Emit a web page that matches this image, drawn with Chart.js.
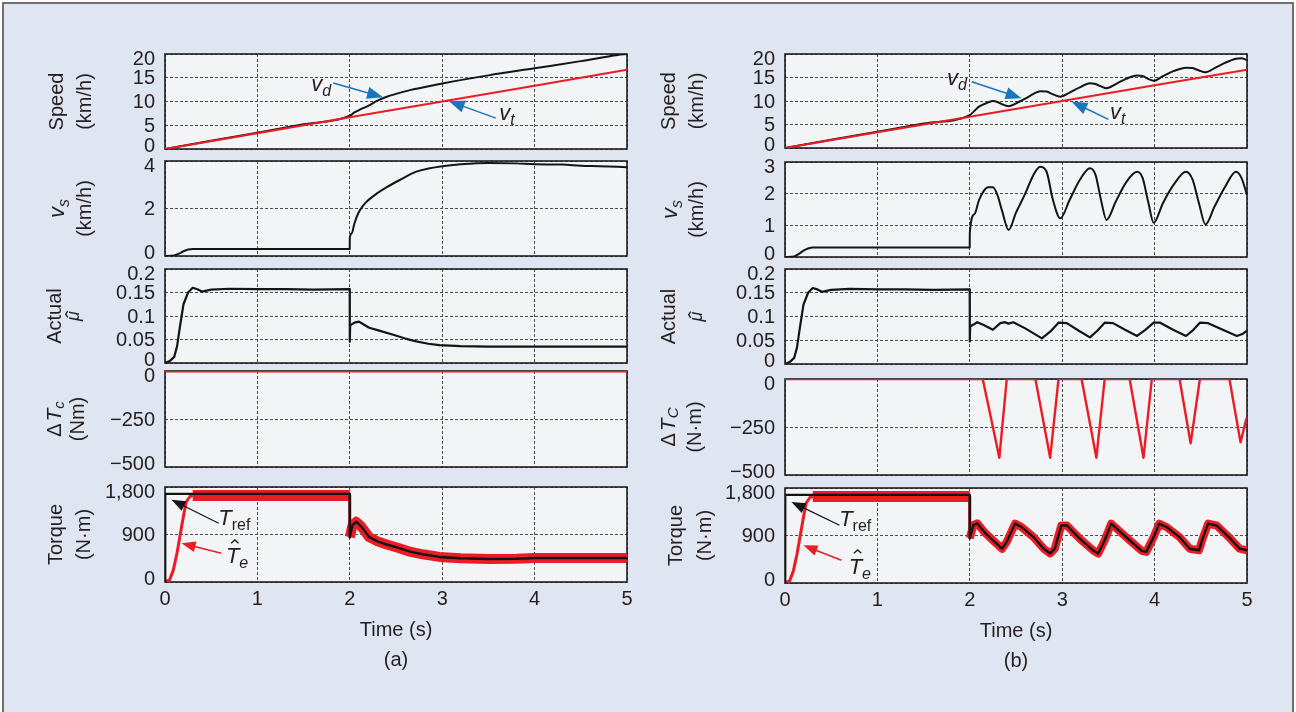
<!DOCTYPE html>
<html>
<head>
<meta charset="utf-8">
<script src="https://cdn.jsdelivr.net/npm/chart.js@4.4.1/dist/chart.umd.min.js"></script>
<style>
  html, body { margin: 0; padding: 0; background: #fff; }
  #fig { position: absolute; left: 2px; top: 2px; width: 1288px; height: 720px; border: 2px solid #707070; background: #dfe5f1; }
  canvas { position: absolute; }
</style>
</head>
<body>
<div id="fig"></div>
<script>
const FONT = '"Liberation Sans", Arial, Helvetica, sans-serif';
const TXT = '#231f20', RED = '#ec1c24', BLACK = '#141414', BLUE = '#1b75bc', GRID = '#4d4d4d', PLOT_BG = '#f3f4f6';

// ---- ticks
const timeTicks = [0, 1, 2, 3, 4, 5];
const timeLabels = ['0', '1', '2', '3', '4', '5'];
const speedTicks = [0, 5, 10, 15, 20];
const speedLabels = ['0', '5', '10', '15', '20'];
const slipTicksA = [0, 2, 4];
const slipLabelsA = ['0', '2', '4'];
const slipTicksB = [0, 1, 2, 3];
const slipLabelsB = ['0', '1', '2', '3'];
const muTicks = [0, 0.05, 0.1, 0.15, 0.2];
const muLabels = ['0', '0.05', '0.1', '0.15', '0.2'];
const dtcTicks = [-500, -250, 0];
const dtcLabels = ['\u2212500', '\u2212250', '0'];
const torqueTicks = [0, 900, 1800];
const torqueLabels = ['0', '900', '1,800'];

// ---- speed (km/h)
const vtT = [0, 1, 2, 3, 4, 5];
const vtV = [0, 3.33, 6.67, 10, 13.33, 16.67];
const vdHeadT = [0, 0.5, 1, 1.5, 2];
const vdHeadV = [0, 1.75, 3.45, 5.2, 7.0];
const vdTailAT = [2.05, 2.1, 2.2, 2.3, 2.4, 2.5, 2.65, 2.8, 3.0, 3.5, 4, 4.5, 4.9, 5];
const vdTailAV = [7.7, 8.2, 9.1, 10.2, 11.0, 11.6, 12.4, 13.0, 13.8, 15.5, 17.0, 18.5, 19.8, 20];
const vdTailBT = [2.05, 2.1, 2.2, 2.25, 2.3, 2.35, 2.42, 2.5, 2.6, 2.69, 2.76, 2.83, 2.9, 2.98, 3.08, 3.19, 3.3, 3.36, 3.42, 3.48, 3.58, 3.69, 3.81, 3.87, 3.93, 3.99, 4.09, 4.21, 4.34, 4.41, 4.48, 4.55, 4.65, 4.76, 4.88, 4.94, 5.0];
const vdTailBV = [7.9, 8.8, 9.7, 10.0, 9.8, 9.3, 8.9, 9.5, 10.5, 11.5, 12.1, 12.0, 11.4, 10.9, 11.8, 12.9, 13.8, 13.6, 13.1, 12.7, 13.6, 14.7, 15.4, 15.3, 14.7, 14.3, 15.3, 16.4, 17.1, 17.0, 16.5, 16.1, 17.0, 18.1, 19.0, 19.1, 18.7];

// ---- slip speed v_s (km/h)
const vsHeadT = [0, 0.1, 0.15, 0.2, 0.25, 0.3, 1.0, 1.999];
const vsHeadV = [0, 0.02, 0.1, 0.2, 0.27, 0.3, 0.3, 0.3];
const vsTailAT = [2.0, 2.02, 2.05, 2.09, 2.14, 2.18, 2.3, 2.4, 2.54, 2.72, 2.85, 3.0, 3.2, 3.5, 3.8, 4.0, 4.3, 4.5, 4.7, 5.0];
const vsTailAV = [0.76, 0.95, 1.37, 1.79, 2.1, 2.28, 2.65, 2.9, 3.2, 3.55, 3.68, 3.78, 3.86, 3.92, 3.9, 3.86, 3.85, 3.8, 3.78, 3.74];
const vsTailBT = [2.0, 2.05, 2.1, 2.15, 2.2, 2.25, 2.3, 2.35, 2.42, 2.5, 2.6, 2.69, 2.76, 2.83, 2.9, 2.98, 3.08, 3.19, 3.3, 3.36, 3.42, 3.48, 3.58, 3.69, 3.81, 3.87, 3.93, 3.99, 4.09, 4.21, 4.34, 4.41, 4.48, 4.55, 4.65, 4.76, 4.88, 4.94, 5.0];
const vsTailBV = [0.75, 1.35, 1.8, 2.08, 2.2, 2.2, 1.95, 1.45, 0.85, 1.4, 2.0, 2.6, 2.85, 2.7, 1.8, 1.22, 1.8, 2.43, 2.8, 2.6, 1.8, 1.17, 1.75, 2.35, 2.69, 2.5, 1.75, 1.08, 1.7, 2.3, 2.69, 2.45, 1.7, 1.03, 1.6, 2.2, 2.69, 2.5, 1.96];

// ---- estimated friction mu
const muHeadT = [0, 0.05, 0.1, 0.13, 0.16, 0.2, 0.25, 0.3, 0.35, 0.4, 0.5, 0.7, 1.0, 1.3, 1.6, 1.999];
const muHeadV = [0, 0.004, 0.013, 0.035, 0.075, 0.125, 0.15, 0.16, 0.157, 0.152, 0.156, 0.158, 0.157, 0.157, 0.156, 0.157];
const muTailAT = [2.0, 2.004, 2.05, 2.1, 2.15, 2.21, 2.3, 2.47, 2.6, 2.72, 2.85, 2.97, 3.2, 3.5, 4, 4.5, 5];
const muTailAV = [0.045, 0.08, 0.086, 0.088, 0.082, 0.075, 0.07, 0.06, 0.052, 0.046, 0.041, 0.038, 0.036, 0.035, 0.035, 0.035, 0.035];
const muTailBT = [2.0, 2.004, 2.04, 2.08, 2.15, 2.25, 2.33, 2.38, 2.42, 2.47, 2.6, 2.78, 2.87, 2.96, 3.05, 3.18, 3.30, 3.38, 3.46, 3.55, 3.68, 3.81, 3.9, 3.99, 4.06, 4.2, 4.34, 4.42, 4.49, 4.58, 4.75, 4.89, 4.95, 5.0];
const muTailBV = [0.047, 0.079, 0.083, 0.088, 0.082, 0.072, 0.086, 0.088, 0.085, 0.088, 0.075, 0.054, 0.068, 0.087, 0.086, 0.07, 0.056, 0.07, 0.087, 0.086, 0.072, 0.059, 0.072, 0.087, 0.087, 0.072, 0.059, 0.072, 0.087, 0.086, 0.071, 0.059, 0.063, 0.07];

// ---- torque correction dTc
const dtcAT = [0, 5];
const dtcAV = [0, 0];
const dtcBT = [0, 2.14, 2.32, 2.40, 2.71, 2.87, 2.96, 3.21, 3.37, 3.46, 3.73, 3.88, 3.97, 4.27, 4.39, 4.49, 4.81, 4.93, 4.99, 5.0];
const dtcBV = [0, 0, -410, 0, 0, -410, 0, 0, -410, 0, 0, -410, 0, 0, -335, 0, 0, -330, -212, -200];

// ---- torque (N.m)
const trefAT = [0, 0.002, 1.999, 2.0, 2.03, 2.07, 2.12, 2.21, 2.3, 2.4, 2.52, 2.65, 2.79, 2.97, 3.2, 3.5, 3.8, 4.0, 4.5, 5.0];
const trefAV = [0, 1670, 1670, 850, 1080, 1140, 1060, 850, 770, 710, 650, 575, 525, 475, 450, 435, 440, 455, 455, 455];
const trefBT = [0, 0.002, 1.999, 2.0, 2.04, 2.08, 2.16, 2.25, 2.35, 2.4, 2.49, 2.56, 2.69, 2.8, 2.87, 2.92, 2.99, 3.05, 3.19, 3.34, 3.39, 3.46, 3.53, 3.73, 3.86, 3.91, 3.99, 4.05, 4.13, 4.27, 4.38, 4.48, 4.52, 4.58, 4.67, 4.82, 4.92, 5.0];
const trefBV = [0, 1670, 1670, 850, 1100, 1130, 960, 810, 650, 780, 1125, 1060, 870, 650, 560, 650, 1090, 1090, 840, 610, 560, 810, 1125, 810, 610, 590, 870, 1125, 1060, 870, 650, 620, 840, 1125, 1090, 840, 650, 620];
const teHeadT = [0, 0.05, 0.09, 0.13, 0.16, 0.2, 0.23, 0.27, 0.3, 1.0, 1.999];
const teHeadV = [0, 40, 225, 550, 850, 1250, 1520, 1620, 1640, 1640, 1640];

// ---- layout
const COLS = [{ left: 165, right: 627 }, { left: 785, right: 1247 }];
const ROWS = [
  [[54, 149], [161, 256], [269, 363], [371, 467], [487, 582]],
  [[54, 148], [162, 257], [269, 364], [379, 475], [488, 583]]
];
const PAD_L = 140, PAD_R = 16, PAD_T = 14;

const join = (a, b) => a.concat(b);
const after = (t, v, t0) => [t.filter(x => x > t0), v.filter((_, i) => t[i] > t0)];

function fontOf(p) { return (p.it ? 'italic ' : '') + (p.size || 20) + 'px ' + FONT; }

function rich(ctx, x, y, parts, rot, base) {
  ctx.save();
  ctx.translate(x, y);
  if (rot) ctx.rotate(-Math.PI / 2);
  ctx.textAlign = 'left';
  ctx.textBaseline = 'alphabetic';
  let w = 0;
  const widths = parts.map(p => { ctx.font = fontOf(p); const m = ctx.measureText(p.t).width; w += m + (p.gap || 0); return m; });
  let cx = -w / 2;
  const by0 = (parts[0].size || 20) * (base == null ? 0.36 : base);
  parts.forEach((p, i) => {
    const s = p.size || 20;
    ctx.font = fontOf(p);
    ctx.fillStyle = p.color || TXT;
    const by = by0 + (p.dy || 0);
    ctx.fillText(p.t, cx, by);
    if (p.hat) {
      const hx = cx + widths[i] / 2 + s * 0.1, hy = by - s * p.hat, hh = s * (p.hatH || 0.15);
      ctx.beginPath();
      ctx.moveTo(hx - s * 0.17, hy);
      ctx.lineTo(hx, hy - hh);
      ctx.lineTo(hx + s * 0.17, hy);
      ctx.strokeStyle = p.color || TXT;
      ctx.lineWidth = 1.4;
      ctx.stroke();
    }
    cx += widths[i] + (p.gap || 0);
  });
  ctx.restore();
}

function arrow(ctx, x0, y0, x1, y1, color, hl, lw) {
  const a = Math.atan2(y1 - y0, x1 - x0), c = Math.cos(a), s = Math.sin(a), hw = hl * 0.38;
  ctx.save();
  ctx.strokeStyle = color; ctx.fillStyle = color; ctx.lineWidth = lw || 1.5;
  ctx.beginPath(); ctx.moveTo(x0, y0); ctx.lineTo(x1 - hl * c * 0.8, y1 - hl * s * 0.8); ctx.stroke();
  ctx.beginPath();
  ctx.moveTo(x1, y1);
  ctx.lineTo(x1 - hl * c + hw * s, y1 - hl * s - hw * c);
  ctx.lineTo(x1 - hl * c - hw * s, y1 - hl * s + hw * c);
  ctx.closePath(); ctx.fill();
  ctx.restore();
}

function bandWidth(c, band) {
  const x0 = c.p0.parsed.x, x1 = c.p1.parsed.x;
  if (x1 - x0 < 0.01 || x1 <= 0.3) return 3;
  return x0 < 1.999 ? band[0] : band[1];
}

function deco(p, bottomRow) {
  return {
    id: 'deco',
    beforeDraw(chart) {
      const a = chart.chartArea, ctx = chart.ctx;
      ctx.save(); ctx.fillStyle = PLOT_BG; ctx.fillRect(a.left, a.top, a.right - a.left, a.bottom - a.top); ctx.restore();
    },
    beforeDatasetsDraw(chart) {
      const a = chart.chartArea, ctx = chart.ctx;
      ctx.save(); ctx.strokeStyle = '#1e1e1e'; ctx.lineWidth = 1.6;
      ctx.strokeRect(a.left, a.top, a.right - a.left, a.bottom - a.top); ctx.restore();
    },
    afterDraw(chart) {
      const a = chart.chartArea, ctx = chart.ctx, xs = chart.scales.x, ys = chart.scales.y;
      ctx.save();
      ctx.font = '20px ' + FONT; ctx.fillStyle = TXT; ctx.textAlign = 'right'; ctx.textBaseline = 'middle';
      p.ticks.forEach((v, i) => {
        let y = ys.getPixelForValue(v);
        y = Math.min(Math.max(y, a.top + 4), a.bottom - 4);
        ctx.fillText(p.labels[i], a.left - 10, y + 1);
      });
      if (bottomRow) {
        ctx.textAlign = 'center';
        timeTicks.forEach((v, i) => ctx.fillText(timeLabels[i], xs.getPixelForValue(v), a.bottom + 17));
      }
      ctx.restore();
      const cy = (a.top + a.bottom) / 2;
      p.titles.forEach(tl => rich(ctx, a.left + tl.dx, cy, tl.parts, true, tl.base));
      (p.notes || []).forEach(n => {
        if (n.arrow) {
          arrow(ctx, xs.getPixelForValue(n.from[0]), ys.getPixelForValue(n.from[1]),
            xs.getPixelForValue(n.to[0]), ys.getPixelForValue(n.to[1]), n.color, n.head, n.lw);
        } else {
          rich(ctx, xs.getPixelForValue(n.at[0]), ys.getPixelForValue(n.at[1]), n.parts, false, n.base);
        }
      });
      if (bottomRow) {
        const mx = (a.left + a.right) / 2;
        rich(ctx, mx, a.bottom + 48, [{ t: 'Time (s)' }], false, 0.3);
        rich(ctx, mx, a.bottom + 78, [{ t: p.tag }], false, 0.3);
      }
    }
  };
}

function makeChart(p) {
  const col = COLS[p.col];
  const [top, bot] = ROWS[p.col][p.row];
  const bottomRow = p.row === 4;
  const padB = bottomRow ? 110 : 14;
  const w = PAD_L + col.right - col.left + PAD_R;
  const h = PAD_T + bot - top + padB;
  const cv = document.createElement('canvas');
  cv.width = w; cv.height = h;
  cv.style.width = w + 'px'; cv.style.height = h + 'px';
  cv.style.left = (col.left - PAD_L) + 'px';
  cv.style.top = (top - PAD_T) + 'px';
  document.body.appendChild(cv);

  const datasets = p.series.map(s => {
    const d = {
      data: s.t.map((x, i) => ({ x, y: s.v[i] })),
      borderColor: s.color, borderWidth: s.w, pointRadius: 0, fill: false,
      tension: 0, cubicInterpolationMode: s.smooth ? 'monotone' : 'default',
      borderJoinStyle: 'round'
    };
    if (s.band) d.segment = { borderWidth: c => bandWidth(c, s.band) };
    return d;
  });

  return new Chart(cv, {
    type: 'line',
    data: { datasets },
    options: {
      responsive: false, animation: false, events: [],
      layout: { padding: { left: 0, right: PAD_R, top: PAD_T, bottom: padB } },
      plugins: { legend: { display: false }, tooltip: { enabled: false } },
      scales: {
        x: {
          type: 'linear', min: 0, max: 5,
          afterBuildTicks: s => { s.ticks = timeTicks.map(v => ({ value: v })); },
          afterFit: s => { s.height = 0; },
          grid: { color: GRID, lineWidth: 1, drawTicks: false },
          border: { display: false, dash: [3, 2] },
          ticks: { display: false }
        },
        y: {
          type: 'linear', min: p.ymin, max: p.ymax,
          afterBuildTicks: s => { s.ticks = p.ticks.map(v => ({ value: v })); },
          afterFit: s => { s.width = PAD_L; },
          grid: { color: GRID, lineWidth: 1, drawTicks: false },
          border: { display: false, dash: [3, 2] },
          ticks: { display: false }
        }
      }
    },
    plugins: [deco(p, bottomRow)]
  });
}

// ---- text pieces
const txt = (t, extra) => [Object.assign({ t }, extra || {})];
const vSub = (sub) => [{ t: 'v', it: true, size: 22 }, { t: sub, it: true, size: 16, dy: 5 }];
const dTc = (sub) => [{ t: '\u0394', size: 20, gap: 2 }, { t: 'T', it: true, size: 21 }, { t: sub, it: true, size: 15, dy: 3 }];
const tRef = [{ t: 'T', it: true, size: 22 }, { t: 'ref', size: 16, dy: 5 }];
const tHat = [{ t: 'T', it: true, size: 22, hat: 0.92 }, { t: 'e', it: true, size: 16, dy: 5 }];
const muHat = [{ t: '\u03bc', it: true, size: 18, hat: 0.62, hatH: 0.11 }];

const teA = after(trefAT, trefAV, 1.999), teB = after(trefBT, trefBV, 1.999);

const panels = [
  // ---- column (a)
  { col: 0, row: 0, ymin: 0, ymax: 20, ticks: speedTicks, labels: speedLabels,
    series: [{ t: vtT, v: vtV, color: RED, w: 2 }, { t: join(vdHeadT, vdTailAT), v: join(vdHeadV, vdTailAV), color: BLACK, w: 2, smooth: true }],
    titles: [{ dx: -107, parts: txt('Speed'), base: 0.25 }, { dx: -79, parts: txt('(km/h)'), base: 0.26 }],
    notes: [
      { at: [1.69, 13.5], parts: vSub('d'), base: 0.26 },
      { arrow: true, from: [1.82, 13.9], to: [2.36, 10.9], color: BLUE, head: 16 },
      { at: [3.70, 7.4], parts: vSub('t'), base: 0.26 },
      { arrow: true, from: [3.58, 6.5], to: [3.07, 10.1], color: BLUE, head: 16 }
    ] },
  { col: 0, row: 1, ymin: 0, ymax: 4, ticks: slipTicksA, labels: slipLabelsA,
    series: [{ t: join(vsHeadT, vsTailAT), v: join(vsHeadV, vsTailAV), color: BLACK, w: 2, smooth: true }],
    titles: [{ dx: -105, parts: vSub('s'), base: 0.18 }, { dx: -79, parts: txt('(km/h)'), base: 0.26 }] },
  { col: 0, row: 2, ymin: 0, ymax: 0.2, ticks: muTicks, labels: muLabels,
    series: [{ t: join(muHeadT, muTailAT), v: join(muHeadV, muTailAV), color: BLACK, w: 2.2 }],
    titles: [{ dx: -111, parts: txt('Actual'), base: 0.36 }, { dx: -89, parts: muHat, base: 0.16 }] },
  { col: 0, row: 3, ymin: -500, ymax: 0, ticks: dtcTicks, labels: dtcLabels,
    series: [{ t: dtcAT, v: dtcAV, color: RED, w: 3 }],
    titles: [{ dx: -110, parts: dTc('c'), base: 0.3 }, { dx: -86, parts: txt('(Nm)'), base: 0.26 }] },
  { col: 0, row: 4, ymin: 0, ymax: 1800, ticks: torqueTicks, labels: torqueLabels, tag: '(a)',
    series: [
      { t: trefAT, v: trefAV, color: BLACK, w: 2.4 },
      { t: join(teHeadT, teA[0]), v: join(teHeadV, teA[1]), color: RED, w: 3, band: [11, 10] }
    ],
    titles: [{ dx: -108, parts: txt('Torque'), base: 0.25 }, { dx: -80, parts: txt('(N\u00b7m)'), base: 0.26 }],
    notes: [
      { at: [0.75, 1222], parts: tRef, base: 0.36 },
      { arrow: true, from: [0.58, 1112], to: [0.07, 1560], color: BLACK, head: 14, lw: 1.2 },
      { at: [0.78, 502], parts: tHat, base: 0.36 },
      { arrow: true, from: [0.61, 544], to: [0.18, 733], color: RED, head: 14 }
    ] },
  // ---- column (b)
  { col: 1, row: 0, ymin: 0, ymax: 20, ticks: speedTicks, labels: speedLabels,
    series: [{ t: vtT, v: vtV, color: RED, w: 2 }, { t: join(vdHeadT, vdTailBT), v: join(vdHeadV, vdTailBV), color: BLACK, w: 2, smooth: true }],
    titles: [{ dx: -115, parts: txt('Speed'), base: 0.25 }, { dx: -87, parts: txt('(km/h)'), base: 0.26 }],
    notes: [
      { at: [1.86, 14.7], parts: vSub('d'), base: 0.26 },
      { arrow: true, from: [2.02, 14.1], to: [2.56, 10.6], color: BLUE, head: 16 },
      { at: [3.60, 7.3], parts: vSub('t'), base: 0.26 },
      { arrow: true, from: [3.50, 6.1], to: [3.10, 9.9], color: BLUE, head: 16 }
    ] },
  { col: 1, row: 1, ymin: 0, ymax: 3, ticks: slipTicksB, labels: slipLabelsB,
    series: [{ t: join(vsHeadT, vsTailBT), v: join(vsHeadV, vsTailBV), color: BLACK, w: 2, smooth: true }],
    titles: [{ dx: -112, parts: vSub('s'), base: 0.18 }, { dx: -87, parts: txt('(km/h)'), base: 0.26 }] },
  { col: 1, row: 2, ymin: 0, ymax: 0.2, ticks: muTicks, labels: muLabels,
    series: [{ t: join(muHeadT, muTailBT), v: join(muHeadV, muTailBV), color: BLACK, w: 2.2 }],
    titles: [{ dx: -117, parts: txt('Actual'), base: 0.36 }, { dx: -86, parts: muHat, base: 0.16 }] },
  { col: 1, row: 3, ymin: -500, ymax: 0, ticks: dtcTicks, labels: dtcLabels,
    series: [{ t: dtcBT, v: dtcBV, color: RED, w: 2.4 }],
    titles: [{ dx: -116, parts: dTc('C'), base: 0.3 }, { dx: -89, parts: txt('(N\u00b7m)'), base: 0.26 }] },
  { col: 1, row: 4, ymin: 0, ymax: 1800, ticks: torqueTicks, labels: torqueLabels, tag: '(b)',
    series: [
      { t: trefBT, v: trefBV, color: BLACK, w: 2.4 },
      { t: join(teHeadT, teB[0]), v: join(teHeadV, teB[1]), color: RED, w: 3, band: [11, 8] }
    ],
    titles: [{ dx: -108, parts: txt('Torque'), base: 0.25 }, { dx: -79, parts: txt('(N\u00b7m)'), base: 0.26 }],
    notes: [
      { at: [0.76, 1225], parts: tRef, base: 0.36 },
      { arrow: true, from: [0.59, 1093], to: [0.07, 1535], color: BLACK, head: 14, lw: 1.2 },
      { at: [0.81, 330], parts: tHat, base: 0.36 },
      { arrow: true, from: [0.61, 430], to: [0.20, 714], color: RED, head: 14 }
    ] }
];

panels.forEach(makeChart);
</script>
</body>
</html>
